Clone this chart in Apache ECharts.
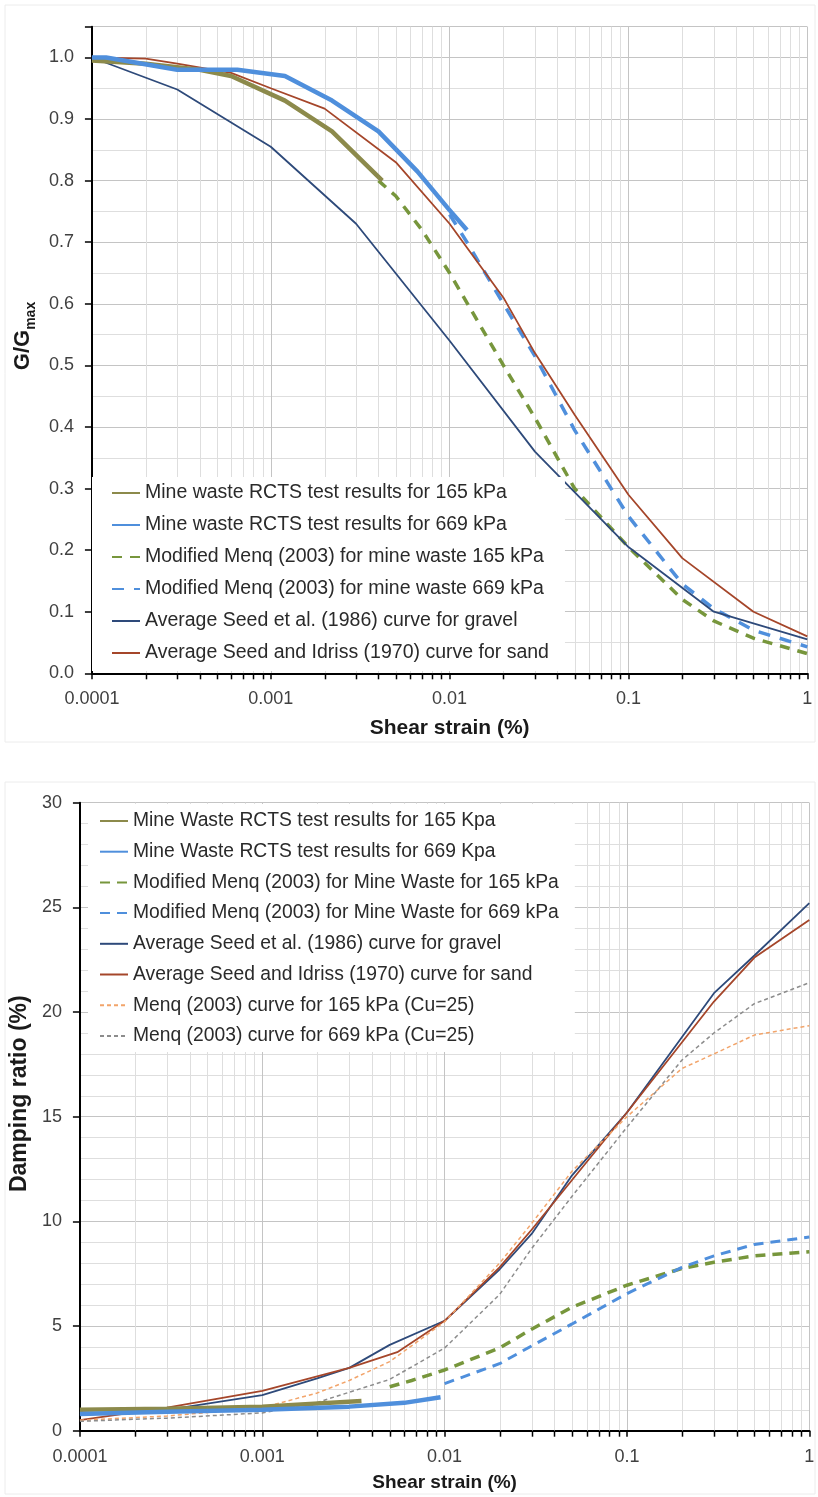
<!DOCTYPE html>
<html><head><meta charset="utf-8">
<script src="https://cdn.jsdelivr.net/npm/echarts@6/dist/echarts.min.js"></script>
<style>html,body{margin:0;padding:0;background:#fff}#c{width:818px;height:1497px}</style>
</head><body><div id="c"></div>
<script>
// ---------- shared axis labels ----------
const xTickLabels = ['0.0001', '0.001', '0.01', '0.1', '1'];
const xDecades = [0.0001, 0.001, 0.01, 0.1];
const xMinorSteps = [2, 3, 4, 5, 6, 7, 8, 9];
const xTitle = 'Shear strain (%)';
const gTitle = 'G/G';
const gTitleSub = 'max';
const dTitle = 'Damping ratio (%)';

// ---------- top chart: G/Gmax ----------
const gNames = [
  'Mine waste RCTS test results for 165 kPa',
  'Mine waste RCTS test results for 669 kPa',
  'Modified Menq (2003) for mine waste 165 kPa',
  'Modified Menq (2003) for mine waste 669 kPa',
  'Average Seed et al. (1986) curve for gravel',
  'Average Seed and Idriss (1970) curve for sand'
];
const gRcts165 = [[0.0001,0.995],[0.0002,0.99],[0.0004,0.98],[0.0006,0.97],[0.0012,0.93],[0.0022,0.88],[0.0042,0.80]];
const gRcts669 = [[0.0001,1.0],[0.00012,1.0],[0.0003,0.98],[0.00065,0.98],[0.0012,0.97],[0.0022,0.93],[0.004,0.88],[0.0066,0.815],[0.0098,0.755],[0.0125,0.72]];
const gMenq165 = [[0.004,0.80],[0.005,0.775],[0.007,0.72],[0.01,0.65],[0.02,0.50],[0.03,0.415],[0.05,0.30],[0.1,0.205],[0.2,0.12],[0.3,0.085],[0.5,0.057],[1,0.032]];
const gMenq669 = [[0.01,0.745],[0.0125,0.70],[0.02,0.60],[0.03,0.515],[0.05,0.395],[0.1,0.255],[0.2,0.145],[0.3,0.105],[0.5,0.07],[1,0.043]];
const gGravel = [[0.0001,1.0],[0.0003,0.948],[0.001,0.855],[0.003,0.73],[0.01,0.54],[0.03,0.36],[0.1,0.205],[0.3,0.10],[1,0.055]];
const gSand = [[0.0001,1.0],[0.0002,0.998],[0.0003,0.99],[0.0006,0.975],[0.001,0.95],[0.002,0.917],[0.005,0.83],[0.01,0.73],[0.02,0.61],[0.03,0.52],[0.05,0.42],[0.1,0.29],[0.2,0.187],[0.5,0.10],[1,0.06]];

// ---------- bottom chart: damping ----------
const dNames = [
  'Mine Waste RCTS test results for 165 Kpa',
  'Mine Waste RCTS test results for 669 Kpa',
  'Modified Menq (2003) for Mine Waste for 165 kPa',
  'Modified Menq (2003) for Mine Waste for 669 kPa',
  'Average Seed et al. (1986) curve for gravel',
  'Average Seed and Idriss (1970) curve for sand',
  'Menq (2003) curve for 165 kPa (Cu=25)',
  'Menq (2003) curve for 669 kPa (Cu=25)'
];
const dRcts165 = [[0.0001,1.0],[0.0003,1.05],[0.001,1.15],[0.0035,1.42]];
const dRcts669 = [[0.0001,0.8],[0.0003,0.9],[0.001,1.0],[0.003,1.15],[0.006,1.33],[0.0095,1.6]];
const dMenqMod165 = [[0.005,2.1],[0.0066,2.4],[0.01,2.9],[0.02,3.95],[0.03,4.85],[0.05,5.9],[0.1,6.95],[0.2,7.75],[0.3,8.05],[0.5,8.35],[1,8.55]];
const dMenqMod669 = [[0.01,2.25],[0.02,3.2],[0.03,4.05],[0.05,5.1],[0.1,6.55],[0.2,7.8],[0.3,8.35],[0.5,8.9],[1,9.25]];
const dGravel = [[0.0001,0.75],[0.0003,1.0],[0.001,1.7],[0.002,2.5],[0.003,3.0],[0.005,4.1],[0.01,5.25],[0.02,7.7],[0.03,9.4],[0.05,12.2],[0.1,15.2],[0.3,20.9],[0.5,22.7],[1,25.2]];
const dSand = [[0.0001,0.5],[0.0003,1.1],[0.001,1.9],[0.003,3.0],[0.0055,3.75],[0.01,5.25],[0.02,7.8],[0.03,9.6],[0.1,15.2],[0.3,20.5],[0.5,22.6],[1,24.4]];
const dMenq165 = [[0.0001,0.5],[0.0003,0.7],[0.001,1.1],[0.002,1.8],[0.003,2.4],[0.005,3.3],[0.01,5.2],[0.02,8.0],[0.03,9.9],[0.05,12.4],[0.1,15.0],[0.2,17.3],[0.3,18.0],[0.5,18.9],[1,19.35]];
const dMenq669 = [[0.0001,0.45],[0.0003,0.6],[0.001,0.85],[0.002,1.35],[0.005,2.45],[0.01,3.95],[0.02,6.5],[0.03,8.7],[0.05,11.2],[0.1,14.5],[0.2,17.7],[0.3,19.0],[0.5,20.4],[1,21.4]];

// ---------- styling ----------
const FONT = '"Liberation Sans", Arial, sans-serif';
const C = {
  olive: '#8c8a4b', blue: '#4f8fdc', green: '#77963c', navy: '#2e4a7a',
  brown: '#a5462a', orange: '#f2a46a', gray: '#8c8c8c'
};

function line(name, data, idx, color, width, type, z) {
  return {
    name, type: 'line', xAxisIndex: idx, yAxisIndex: idx, data,
    symbol: 'none', showSymbol: false, z: z || 2,
    lineStyle: { color, width, type: type || 'solid' },
    itemStyle: { color }, emphasis: { disabled: true }
  };
}

// minor log gridlines (2..9 within each decade) + their tick marks under the axis
const xMinorValues = [];
xDecades.forEach(d => xMinorSteps.forEach(m => xMinorValues.push(+(d * m).toPrecision(3))));
function minorGrid(idx, yMin, yMax) {
  return {
    type: 'custom', xAxisIndex: idx, yAxisIndex: idx, z: 1, silent: true, clip: false,
    data: xMinorValues.map(v => [v, yMin]),
    encode: { x: 0, y: 1 },
    renderItem: (params, api) => {
      const x = api.value(0);
      const p0 = api.coord([x, yMin]);
      const p1 = api.coord([x, yMax]);
      const px = Math.round(p0[0]) + 0.5;
      return {
        type: 'group', children: [
          { type: 'line', shape: { x1: px, y1: p0[1], x2: px, y2: p1[1] }, style: { stroke: '#dedede', lineWidth: 1 } },
          { type: 'line', shape: { x1: px, y1: p0[1], x2: px, y2: p0[1] + 6 }, style: { stroke: '#000', lineWidth: 1.5 } }
        ]
      };
    }
  };
}

function xAxisDef(idx, nameSize, nameGap) {
  return {
    type: 'log', logBase: 10, min: 0.0001, max: 1, gridIndex: idx,
    name: xTitle, nameLocation: 'middle', nameGap,
    nameTextStyle: { fontSize: nameSize, fontWeight: 'bold', color: '#1a1a1a', fontFamily: FONT },
    axisLine: { show: true, onZero: false, lineStyle: { color: '#000', width: 2 } },
    axisTick: { show: true, length: 6, lineStyle: { color: '#000', width: 1.5 } },
    minorTick: { show: false },
    axisLabel: {
      fontSize: 18, color: '#404040', fontFamily: FONT, margin: 17,
      formatter: v => xTickLabels[Math.round(Math.log10(v)) + 4] || ''
    },
    splitLine: { show: true, lineStyle: { color: '#c4c4c4', width: 1 } },
    minorSplitLine: { show: false }
  };
}

const chart = echarts.init(document.getElementById('c'), null, { renderer: 'canvas' });
const option = {
  animation: false,
  backgroundColor: '#fff',
  graphic: [
    { type: 'rect', shape: { x: 5, y: 5, width: 810, height: 737 }, style: { fill: 'none', stroke: '#ececec', lineWidth: 1 }, z: -10 },
    { type: 'rect', shape: { x: 5, y: 782, width: 810, height: 712 }, style: { fill: 'none', stroke: '#ececec', lineWidth: 1 }, z: -10 }
  ],
  grid: [
    { left: 89.3, right: 10.7, top: 26.7, height: 646.6 },
    { left: 77.3, right: 8.7, top: 802.7, height: 628 }
  ],
  xAxis: [xAxisDef(0, 21, 44), xAxisDef(1, 19, 43)],
  yAxis: [
    {
      type: 'value', gridIndex: 0, min: 0, max: 1.05, interval: 0.1,
      name: gTitle + '{s|' + gTitleSub + '}', nameLocation: 'middle', nameGap: 52,
      nameTextStyle: {
        fontSize: 22, fontWeight: 'bold', color: '#1a1a1a', fontFamily: FONT,
        lineHeight: 30, verticalAlign: 'middle', padding: [0, 0, 0, 28],
        rich: { s: { fontSize: 14, fontWeight: 'bold', color: '#1a1a1a', fontFamily: FONT, lineHeight: 14, verticalAlign: 'bottom' } }
      },
      axisLine: { show: true, lineStyle: { color: '#000', width: 2 } },
      axisTick: { show: true, length: 7, lineStyle: { color: '#000', width: 1.5 } },
      axisLabel: {
        fontSize: 18, color: '#404040', fontFamily: FONT, margin: 18,
        formatter: v => (Math.abs(v * 10 - Math.round(v * 10)) < 1e-6 ? v.toFixed(1) : '')
      },
      splitLine: { show: true, lineStyle: { color: '#c4c4c4', width: 1 } },
      minorTick: { show: false, splitNumber: 2 },
      minorSplitLine: { show: true, lineStyle: { color: '#dedede', width: 1 } }
    },
    {
      type: 'value', gridIndex: 1, min: 0, max: 30, interval: 5,
      name: dTitle, nameLocation: 'middle', nameGap: 48,
      nameTextStyle: { fontSize: 23, fontWeight: 'bold', color: '#1a1a1a', fontFamily: FONT, padding: [0, 0, 0, 46] },
      axisLine: { show: true, lineStyle: { color: '#000', width: 2 } },
      axisTick: { show: true, length: 7, lineStyle: { color: '#000', width: 1.5 } },
      axisLabel: { fontSize: 18, color: '#404040', fontFamily: FONT, margin: 18 },
      splitLine: { show: true, lineStyle: { color: '#c4c4c4', width: 1 } },
      minorTick: { show: false, splitNumber: 5 },
      minorSplitLine: { show: true, lineStyle: { color: '#dedede', width: 1 } }
    }
  ],
  legend: [
    {
      orient: 'vertical', left: 92, top: 477, data: gNames, selectedMode: false,
      backgroundColor: '#fff', padding: [6, 16, 8, 19], itemGap: 12, itemWidth: 28, itemHeight: 14,
      itemStyle: { opacity: 0, borderWidth: 0 },
      textStyle: { fontSize: 19.5, lineHeight: 20, color: '#2a2a2a', fontFamily: FONT }
    },
    {
      orient: 'vertical', left: 88, top: 804, data: dNames, selectedMode: false,
      backgroundColor: '#fff', padding: [7, 16, 6, 11], itemGap: 10.7, itemWidth: 28, itemHeight: 14,
      itemStyle: { opacity: 0, borderWidth: 0 },
      textStyle: { fontSize: 19.3, lineHeight: 20, color: '#2a2a2a', fontFamily: FONT }
    }
  ],
  series: [
    minorGrid(0, 0, 1.05),
    minorGrid(1, 0, 30),

    line(gNames[0], gRcts165, 0, C.olive, 4.5, 'solid', 3),
    line(gNames[1], gRcts669, 0, C.blue, 4.5, 'solid', 3),
    line(gNames[2], gMenq165, 0, C.green, 3.5, [10, 8], 2),
    line(gNames[3], gMenq669, 0, C.blue, 3.5, [12, 10], 2),
    line(gNames[4], gGravel, 0, C.navy, 1.8, 'solid', 2),
    line(gNames[5], gSand, 0, C.brown, 1.8, 'solid', 2),

    line(dNames[0], dRcts165, 1, C.olive, 4.5, 'solid', 3),
    line(dNames[1], dRcts669, 1, C.blue, 4.5, 'solid', 3),
    line(dNames[2], dMenqMod165, 1, C.green, 3.5, [10, 7], 2),
    line(dNames[3], dMenqMod669, 1, C.blue, 3, [10, 7], 2),
    line(dNames[4], dGravel, 1, C.navy, 1.8, 'solid', 2),
    line(dNames[5], dSand, 1, C.brown, 1.8, 'solid', 2),
    line(dNames[6], dMenq165, 1, C.orange, 1.5, [4, 3], 2),
    line(dNames[7], dMenq669, 1, C.gray, 1.5, [4, 3], 2)
  ]
};
chart.setOption(option);
</script>
</body></html>
